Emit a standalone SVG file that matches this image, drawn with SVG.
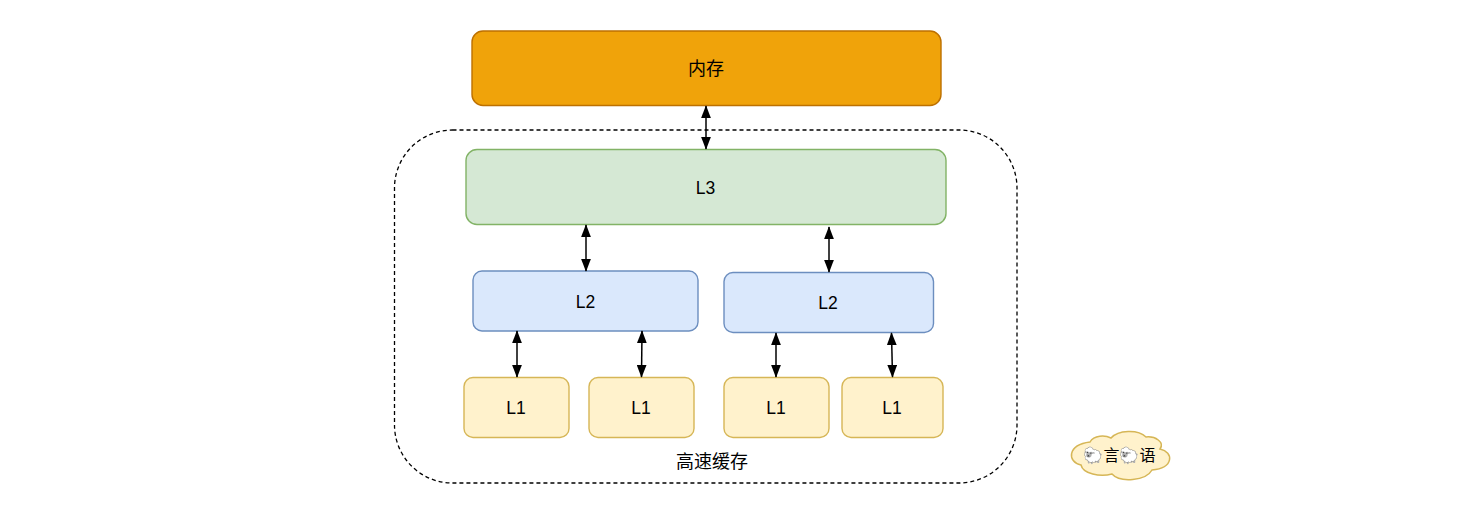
<svg xmlns="http://www.w3.org/2000/svg" width="1480" height="528" viewBox="0 0 1480 528">
<style>
text{font-family:"Liberation Sans","Noto Sans CJK SC",Arial,sans-serif;font-size:17.500px;fill:#000;text-anchor:middle}
.z{font-size:18px}
.b{stroke-width:1.400}
.o{fill:#f0a30a;stroke:#bd7000}
.g{fill:#d5e8d4;stroke:#82b366}
.l2{fill:#dae8fc;stroke:#6c8ebf}
.l1{fill:#fff2cc;stroke:#d6b656}
.c line{stroke:#000;stroke-width:1.500;marker-start:url(#a);marker-end:url(#a)}
</style>
<defs>
<marker id="a" viewBox="0 0 10 10" refX="9.500" refY="5" markerUnits="userSpaceOnUse" markerWidth="13" markerHeight="10" orient="auto-start-reverse" preserveAspectRatio="none"><path d="M0 0L10 5L0 10Z" fill="#000"/></marker>
</defs>
<rect width="1480" height="528" fill="#fff"/>
<g id="cache"><rect x="394.500" y="130" width="622.500" height="353" rx="58" fill="none" stroke="#000" stroke-width="1.300" stroke-dasharray="4 3"/><text class="z" x="712" y="468">高速缓存</text></g>
<g id="memory"><rect class="o b" x="472" y="31" width="469" height="74.500" rx="11"/><text class="z" x="706" y="75">内存</text></g>
<g id="l3"><rect class="g b" x="466" y="149.500" width="480" height="75" rx="11"/><text x="705.500" y="194">L3</text></g>
<g id="l2a"><rect class="l2 b" x="473" y="271" width="225" height="60" rx="9"/><text x="585.500" y="308">L2</text></g>
<g id="l2b"><rect class="l2 b" x="724" y="272.500" width="209.500" height="60" rx="9"/><text x="828" y="309">L2</text></g>
<g id="l1a"><rect class="l1 b" x="464" y="377.500" width="105" height="60" rx="9"/><text x="516" y="414">L1</text></g>
<g id="l1b"><rect class="l1 b" x="589" y="377.500" width="105" height="60" rx="9"/><text x="641" y="414">L1</text></g>
<g id="l1c"><rect class="l1 b" x="724" y="377.500" width="105" height="60" rx="9"/><text x="776" y="414">L1</text></g>
<g id="l1d"><rect class="l1 b" x="842" y="377.500" width="101" height="60" rx="9"/><text x="892" y="414">L1</text></g>
<g id="cloud"><path class="l1" stroke-width="1.500" d="M1090 442C1094 435 1105 435 1111 438C1118 430 1138 429 1146 437C1155 436 1165 442 1160 449C1174 452 1174 468 1152 470C1146 481 1120 483 1112 474C1100 477 1083 474 1081 465C1067 462 1067 445 1090 442Z"/><text x="1119.500" y="461" style="font-family:'Liberation Sans','Noto Sans CJK SC','Noto Color Emoji',sans-serif;font-size:16px">🐑言🐑语</text></g>
<g id="connectors" class="c">
<line x1="706" y1="106" x2="706" y2="149"/>
<line x1="586" y1="225" x2="586" y2="271"/>
<line x1="829" y1="227" x2="829" y2="272"/>
<line x1="517" y1="331" x2="517" y2="377"/>
<line x1="642" y1="331" x2="641.500" y2="377"/>
<line x1="776" y1="333" x2="776" y2="377"/>
<line x1="891.500" y1="333" x2="892.500" y2="377"/>
</g>
</svg>
